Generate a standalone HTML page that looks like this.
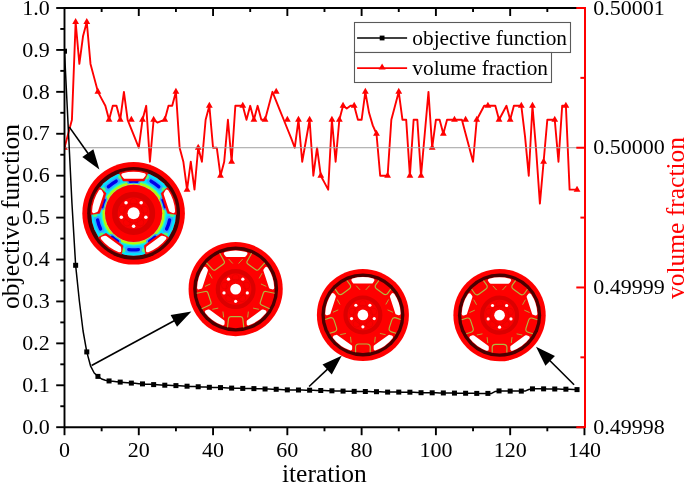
<!DOCTYPE html><html><head><meta charset="utf-8"><style>html,body{margin:0;padding:0;background:#fff;}svg{display:block;will-change:transform;}text{font-family:"Liberation Serif",serif;}</style></head><body><svg width="685" height="483" viewBox="0 0 685 483">
<rect width="685" height="483" fill="#fff"/>
<circle cx="133.6" cy="213.3" r="51.3" fill="#ff0000"/>
<circle cx="133.6" cy="213.3" r="46.40" fill="#4a0000"/>
<circle cx="133.6" cy="213.3" r="42.40" fill="#ff0000"/>
<circle cx="133.6" cy="213.3" r="42.4" fill="#00e4ff"/>
<circle cx="133.6" cy="213.3" r="31.6" fill="none" stroke="#40ffa0" stroke-width="1.2"/>
<circle cx="133.6" cy="213.3" r="30.2" fill="none" stroke="#b4ff00" stroke-width="1.8"/>
<circle cx="133.6" cy="213.3" r="29.0" fill="none" stroke="#ffd800" stroke-width="0.9"/>
<circle cx="133.6" cy="213.3" r="28.6" fill="#ff0000"/>
<path d="M150.22,180.69 A36.60,36.60 0 0 1 159.48,187.42" fill="none" stroke="#30a8ff" stroke-width="6.5" stroke-linecap="round"/>
<path d="M151.06,181.14 A36.60,36.60 0 0 1 158.79,186.75" fill="none" stroke="#0000e8" stroke-width="3.4" stroke-linecap="round"/>
<path d="M129.13,181.51 A32.10,32.10 0 0 1 138.07,181.51" fill="none" stroke="#30a8ff" stroke-width="5.2" stroke-linecap="round"/>
<path d="M129.97,181.41 A32.10,32.10 0 0 1 137.23,181.41" fill="none" stroke="#0000e8" stroke-width="3.0" stroke-linecap="round"/>
<path d="M169.75,219.03 A36.60,36.60 0 0 1 166.21,229.92" fill="none" stroke="#30a8ff" stroke-width="6.5" stroke-linecap="round"/>
<path d="M169.59,219.97 A36.60,36.60 0 0 1 166.63,229.06" fill="none" stroke="#0000e8" stroke-width="3.4" stroke-linecap="round"/>
<path d="M162.45,199.23 A32.10,32.10 0 0 1 165.21,207.73" fill="none" stroke="#30a8ff" stroke-width="5.2" stroke-linecap="round"/>
<path d="M162.81,199.99 A32.10,32.10 0 0 1 165.06,206.90" fill="none" stroke="#0000e8" stroke-width="3.0" stroke-linecap="round"/>
<path d="M139.33,249.45 A36.60,36.60 0 0 1 127.87,249.45" fill="none" stroke="#30a8ff" stroke-width="6.5" stroke-linecap="round"/>
<path d="M138.38,249.59 A36.60,36.60 0 0 1 128.82,249.59" fill="none" stroke="#0000e8" stroke-width="3.4" stroke-linecap="round"/>
<path d="M155.90,236.39 A32.10,32.10 0 0 1 148.67,241.64" fill="none" stroke="#30a8ff" stroke-width="5.2" stroke-linecap="round"/>
<path d="M155.29,236.97 A32.10,32.10 0 0 1 149.41,241.24" fill="none" stroke="#0000e8" stroke-width="3.0" stroke-linecap="round"/>
<path d="M100.99,229.92 A36.60,36.60 0 0 1 97.45,219.03" fill="none" stroke="#30a8ff" stroke-width="6.5" stroke-linecap="round"/>
<path d="M100.57,229.06 A36.60,36.60 0 0 1 97.61,219.97" fill="none" stroke="#0000e8" stroke-width="3.4" stroke-linecap="round"/>
<path d="M118.53,241.64 A32.10,32.10 0 0 1 111.30,236.39" fill="none" stroke="#30a8ff" stroke-width="5.2" stroke-linecap="round"/>
<path d="M117.79,241.24 A32.10,32.10 0 0 1 111.91,236.97" fill="none" stroke="#0000e8" stroke-width="3.0" stroke-linecap="round"/>
<path d="M107.72,187.42 A36.60,36.60 0 0 1 116.98,180.69" fill="none" stroke="#30a8ff" stroke-width="6.5" stroke-linecap="round"/>
<path d="M108.41,186.75 A36.60,36.60 0 0 1 116.14,181.14" fill="none" stroke="#0000e8" stroke-width="3.4" stroke-linecap="round"/>
<path d="M101.99,207.73 A32.10,32.10 0 0 1 104.75,199.23" fill="none" stroke="#30a8ff" stroke-width="5.2" stroke-linecap="round"/>
<path d="M102.14,206.90 A32.10,32.10 0 0 1 104.39,199.99" fill="none" stroke="#0000e8" stroke-width="3.0" stroke-linecap="round"/>
<circle cx="120.43" cy="177.12" r="2.4" fill="#60ff60" opacity="0.85"/>
<circle cx="146.77" cy="177.12" r="2.4" fill="#60ff60" opacity="0.85"/>
<path d="M119.31,172.95 A42.80,42.80 0 0 1 147.89,172.95 L144.11,180.96 L123.09,180.96 Z" fill="#ff0000" stroke="#ff0000" stroke-width="0.6" stroke-linejoin="round"/>
<path d="M123.16,174.89 A39.80,39.80 0 0 1 144.04,174.89 L142.24,177.02 L124.96,177.02 Z" fill="#fff" stroke="#fff" stroke-width="3.6" stroke-linejoin="round"/>
<circle cx="163.94" cy="189.60" r="2.4" fill="#60ff60" opacity="0.85"/>
<circle cx="172.08" cy="214.64" r="2.4" fill="#60ff60" opacity="0.85"/>
<path d="M167.56,187.25 A42.80,42.80 0 0 1 176.39,214.42 L167.60,213.30 L161.11,193.32 Z" fill="#ff0000" stroke="#ff0000" stroke-width="0.6" stroke-linejoin="round"/>
<path d="M166.90,191.51 A39.80,39.80 0 0 1 173.35,211.36 L170.78,210.31 L165.44,193.87 Z" fill="#fff" stroke="#fff" stroke-width="3.6" stroke-linejoin="round"/>
<circle cx="165.52" cy="234.83" r="2.4" fill="#60ff60" opacity="0.85"/>
<circle cx="144.21" cy="250.31" r="2.4" fill="#60ff60" opacity="0.85"/>
<path d="M168.87,237.54 A42.80,42.80 0 0 1 145.76,254.34 L144.11,245.64 L161.11,233.28 Z" fill="#ff0000" stroke="#ff0000" stroke-width="0.6" stroke-linejoin="round"/>
<path d="M164.62,238.24 A39.80,39.80 0 0 1 147.73,250.51 L147.93,247.74 L161.92,237.57 Z" fill="#fff" stroke="#fff" stroke-width="3.6" stroke-linejoin="round"/>
<circle cx="122.99" cy="250.31" r="2.4" fill="#60ff60" opacity="0.85"/>
<circle cx="101.68" cy="234.83" r="2.4" fill="#60ff60" opacity="0.85"/>
<path d="M121.44,254.34 A42.80,42.80 0 0 1 98.33,237.54 L106.09,233.28 L123.09,245.64 Z" fill="#ff0000" stroke="#ff0000" stroke-width="0.6" stroke-linejoin="round"/>
<path d="M119.47,250.51 A39.80,39.80 0 0 1 102.58,238.24 L105.28,237.57 L119.27,247.74 Z" fill="#fff" stroke="#fff" stroke-width="3.6" stroke-linejoin="round"/>
<circle cx="95.12" cy="214.64" r="2.4" fill="#60ff60" opacity="0.85"/>
<circle cx="103.26" cy="189.60" r="2.4" fill="#60ff60" opacity="0.85"/>
<path d="M90.81,214.42 A42.80,42.80 0 0 1 99.64,187.25 L106.09,193.32 L99.60,213.30 Z" fill="#ff0000" stroke="#ff0000" stroke-width="0.6" stroke-linejoin="round"/>
<path d="M93.85,211.36 A39.80,39.80 0 0 1 100.30,191.51 L101.76,193.87 L96.42,210.31 Z" fill="#fff" stroke="#fff" stroke-width="3.6" stroke-linejoin="round"/>
<circle cx="133.6" cy="213.3" r="18.75" fill="#fa0000" stroke="#dc0000" stroke-width="5.70"/>
<circle cx="133.6" cy="213.3" r="9.86" fill="none" stroke="#e40000" stroke-width="0.7"/>
<circle cx="126.87" cy="222.56" r="3.50" fill="none" stroke="#e40000" stroke-width="0.6"/>
<circle cx="122.71" cy="209.76" r="3.50" fill="none" stroke="#e40000" stroke-width="0.6"/>
<circle cx="133.60" cy="201.85" r="3.50" fill="none" stroke="#e40000" stroke-width="0.6"/>
<circle cx="144.49" cy="209.76" r="3.50" fill="none" stroke="#e40000" stroke-width="0.6"/>
<circle cx="140.33" cy="222.56" r="3.50" fill="none" stroke="#e40000" stroke-width="0.6"/>
<circle cx="133.6" cy="213.3" r="6.00" fill="#fff"/>
<circle cx="133.60" cy="226.20" r="1.75" fill="#fff"/>
<circle cx="121.33" cy="217.29" r="1.75" fill="#fff"/>
<circle cx="126.02" cy="202.86" r="1.75" fill="#fff"/>
<circle cx="141.18" cy="202.86" r="1.75" fill="#fff"/>
<circle cx="145.87" cy="217.29" r="1.75" fill="#fff"/>
<circle cx="235.65" cy="289.1" r="47.1" fill="#ff0000"/>
<circle cx="235.65" cy="289.1" r="42.48" fill="#4a0000"/>
<circle cx="235.65" cy="289.1" r="39.09" fill="#ff0000"/>
<path d="M225.52,253.54 A36.97,36.97 0 0 1 245.78,253.54 L244.49,255.39 L226.81,255.39 Z" fill="#fff" stroke="#fff" stroke-width="3.3" stroke-linejoin="round"/>
<path d="M266.34,268.48 A36.97,36.97 0 0 1 272.60,287.75 L270.45,287.09 L264.98,270.27 Z" fill="#fff" stroke="#fff" stroke-width="3.3" stroke-linejoin="round"/>
<path d="M264.75,311.91 A36.97,36.97 0 0 1 248.36,323.82 L248.31,321.57 L262.62,311.18 Z" fill="#fff" stroke="#fff" stroke-width="3.3" stroke-linejoin="round"/>
<path d="M222.94,323.82 A36.97,36.97 0 0 1 206.55,311.91 L208.68,311.18 L222.99,321.57 Z" fill="#fff" stroke="#fff" stroke-width="3.3" stroke-linejoin="round"/>
<path d="M198.70,287.75 A36.97,36.97 0 0 1 204.96,268.48 L206.32,270.27 L200.85,287.09 Z" fill="#fff" stroke="#fff" stroke-width="3.3" stroke-linejoin="round"/>
<path d="M251.58,253.29 L247.25,260.99 Q246.22,262.76 247.87,263.95 L255.79,269.71 Q257.44,270.91 258.80,269.38 L264.78,262.88" fill="none" stroke="#b0b840" stroke-width="1.15" stroke-linejoin="round"/>
<line x1="259.12" y1="278.40" x2="262.04" y2="273.24" stroke="#b0b840" stroke-width="0.9"/>
<line x1="260.93" y1="283.96" x2="266.32" y2="286.42" stroke="#b0b840" stroke-width="0.9"/>
<path d="M274.63,293.19 L265.97,291.45 Q263.97,291.01 263.34,292.95 L260.32,302.26 Q259.69,304.20 261.56,305.02 L269.59,308.70" fill="none" stroke="#b0b840" stroke-width="1.15" stroke-linejoin="round"/>
<line x1="253.08" y1="308.12" x2="258.89" y2="309.30" stroke="#b0b840" stroke-width="0.9"/>
<line x1="248.35" y1="311.55" x2="247.68" y2="317.44" stroke="#b0b840" stroke-width="0.9"/>
<path d="M243.81,327.43 L242.79,318.66 Q242.58,316.63 240.54,316.63 L230.76,316.63 Q228.72,316.63 228.51,318.66 L227.49,327.43" fill="none" stroke="#b0b840" stroke-width="1.15" stroke-linejoin="round"/>
<line x1="222.95" y1="311.55" x2="223.62" y2="317.44" stroke="#b0b840" stroke-width="0.9"/>
<line x1="218.22" y1="308.12" x2="212.41" y2="309.30" stroke="#b0b840" stroke-width="0.9"/>
<path d="M201.71,308.70 L209.74,305.02 Q211.61,304.20 210.98,302.26 L207.96,292.95 Q207.33,291.01 205.33,291.45 L196.67,293.19" fill="none" stroke="#b0b840" stroke-width="1.15" stroke-linejoin="round"/>
<line x1="210.37" y1="283.96" x2="204.98" y2="286.42" stroke="#b0b840" stroke-width="0.9"/>
<line x1="212.18" y1="278.40" x2="209.26" y2="273.24" stroke="#b0b840" stroke-width="0.9"/>
<path d="M206.52,262.88 L212.50,269.38 Q213.86,270.91 215.51,269.71 L223.43,263.95 Q225.08,262.76 224.05,260.99 L219.72,253.29" fill="none" stroke="#b0b840" stroke-width="1.15" stroke-linejoin="round"/>
<line x1="232.73" y1="263.47" x2="228.72" y2="259.10" stroke="#b0b840" stroke-width="0.9"/>
<line x1="238.57" y1="263.47" x2="242.58" y2="259.10" stroke="#b0b840" stroke-width="0.9"/>
<circle cx="235.65" cy="289.1" r="17.84" fill="#fa0000" stroke="#dc0000" stroke-width="4.28"/>
<circle cx="235.65" cy="289.1" r="9.73" fill="none" stroke="#e40000" stroke-width="0.7"/>
<circle cx="229.01" cy="298.25" r="3.45" fill="none" stroke="#e40000" stroke-width="0.6"/>
<circle cx="224.90" cy="285.61" r="3.45" fill="none" stroke="#e40000" stroke-width="0.6"/>
<circle cx="235.65" cy="277.80" r="3.45" fill="none" stroke="#e40000" stroke-width="0.6"/>
<circle cx="246.40" cy="285.61" r="3.45" fill="none" stroke="#e40000" stroke-width="0.6"/>
<circle cx="242.29" cy="298.25" r="3.45" fill="none" stroke="#e40000" stroke-width="0.6"/>
<circle cx="235.65" cy="289.1" r="5.45" fill="#fff"/>
<circle cx="235.65" cy="301.33" r="1.63" fill="#fff"/>
<circle cx="224.01" cy="292.88" r="1.63" fill="#fff"/>
<circle cx="228.46" cy="279.20" r="1.63" fill="#fff"/>
<circle cx="242.84" cy="279.20" r="1.63" fill="#fff"/>
<circle cx="247.29" cy="292.88" r="1.63" fill="#fff"/>
<circle cx="362.9" cy="314.9" r="46.0" fill="#ff0000"/>
<circle cx="362.9" cy="314.9" r="41.49" fill="#4a0000"/>
<circle cx="362.9" cy="314.9" r="38.18" fill="#ff0000"/>
<path d="M353.01,280.17 A36.11,36.11 0 0 1 372.79,280.17 L371.54,281.97 L354.26,281.97 Z" fill="#fff" stroke="#fff" stroke-width="3.3" stroke-linejoin="round"/>
<path d="M392.87,294.76 A36.11,36.11 0 0 1 398.99,313.58 L396.88,312.94 L391.55,296.51 Z" fill="#fff" stroke="#fff" stroke-width="3.3" stroke-linejoin="round"/>
<path d="M391.32,337.18 A36.11,36.11 0 0 1 375.31,348.81 L375.27,346.61 L389.24,336.46 Z" fill="#fff" stroke="#fff" stroke-width="3.3" stroke-linejoin="round"/>
<path d="M350.49,348.81 A36.11,36.11 0 0 1 334.48,337.18 L336.56,336.46 L350.53,346.61 Z" fill="#fff" stroke="#fff" stroke-width="3.3" stroke-linejoin="round"/>
<path d="M326.81,313.58 A36.11,36.11 0 0 1 332.93,294.76 L334.25,296.51 L328.92,312.94 Z" fill="#fff" stroke="#fff" stroke-width="3.3" stroke-linejoin="round"/>
<path d="M378.91,280.50 L375.96,284.39 Q374.03,287.05 376.77,289.04 L383.21,293.72 Q385.95,295.71 387.88,293.05 L390.67,289.05" fill="none" stroke="#b0b840" stroke-width="1.15" stroke-linejoin="round"/>
<line x1="385.82" y1="304.45" x2="388.67" y2="299.41" stroke="#b0b840" stroke-width="0.9"/>
<line x1="387.58" y1="309.88" x2="392.85" y2="312.28" stroke="#b0b840" stroke-width="0.9"/>
<path d="M400.56,319.49 L395.95,317.89 Q392.83,316.88 391.78,320.10 L389.32,327.67 Q388.27,330.89 391.40,331.91 L396.07,333.32" fill="none" stroke="#b0b840" stroke-width="1.15" stroke-linejoin="round"/>
<line x1="379.92" y1="333.47" x2="385.59" y2="334.63" stroke="#b0b840" stroke-width="0.9"/>
<line x1="375.30" y1="336.82" x2="374.65" y2="342.58" stroke="#b0b840" stroke-width="0.9"/>
<path d="M370.17,352.14 L370.27,347.26 Q370.27,343.97 366.88,343.97 L358.92,343.97 Q355.53,343.97 355.53,347.26 L355.63,352.14" fill="none" stroke="#b0b840" stroke-width="1.15" stroke-linejoin="round"/>
<line x1="350.50" y1="336.82" x2="351.15" y2="342.58" stroke="#b0b840" stroke-width="0.9"/>
<line x1="345.88" y1="333.47" x2="340.21" y2="334.63" stroke="#b0b840" stroke-width="0.9"/>
<path d="M329.73,333.32 L334.40,331.91 Q337.53,330.89 336.48,327.67 L334.02,320.10 Q332.97,316.88 329.85,317.89 L325.24,319.49" fill="none" stroke="#b0b840" stroke-width="1.15" stroke-linejoin="round"/>
<line x1="338.22" y1="309.88" x2="332.95" y2="312.28" stroke="#b0b840" stroke-width="0.9"/>
<line x1="339.98" y1="304.45" x2="337.13" y2="299.41" stroke="#b0b840" stroke-width="0.9"/>
<path d="M335.13,289.05 L337.92,293.05 Q339.85,295.71 342.59,293.72 L349.03,289.04 Q351.77,287.05 349.84,284.39 L346.89,280.50" fill="none" stroke="#b0b840" stroke-width="1.15" stroke-linejoin="round"/>
<line x1="360.05" y1="289.87" x2="356.14" y2="285.60" stroke="#b0b840" stroke-width="0.9"/>
<line x1="365.75" y1="289.87" x2="369.66" y2="285.60" stroke="#b0b840" stroke-width="0.9"/>
<circle cx="362.9" cy="314.9" r="17.42" fill="#fa0000" stroke="#dc0000" stroke-width="4.18"/>
<circle cx="362.9" cy="314.9" r="9.51" fill="none" stroke="#e40000" stroke-width="0.7"/>
<circle cx="356.41" cy="323.83" r="3.37" fill="none" stroke="#e40000" stroke-width="0.6"/>
<circle cx="352.40" cy="311.49" r="3.37" fill="none" stroke="#e40000" stroke-width="0.6"/>
<circle cx="362.90" cy="303.86" r="3.37" fill="none" stroke="#e40000" stroke-width="0.6"/>
<circle cx="373.40" cy="311.49" r="3.37" fill="none" stroke="#e40000" stroke-width="0.6"/>
<circle cx="369.39" cy="323.83" r="3.37" fill="none" stroke="#e40000" stroke-width="0.6"/>
<circle cx="362.9" cy="314.9" r="5.33" fill="#fff"/>
<circle cx="362.90" cy="326.85" r="1.59" fill="#fff"/>
<circle cx="351.54" cy="318.59" r="1.59" fill="#fff"/>
<circle cx="355.88" cy="305.23" r="1.59" fill="#fff"/>
<circle cx="369.92" cy="305.23" r="1.59" fill="#fff"/>
<circle cx="374.26" cy="318.59" r="1.59" fill="#fff"/>
<circle cx="499.55" cy="315.2" r="46.15" fill="#ff0000"/>
<circle cx="499.55" cy="315.2" r="41.63" fill="#4a0000"/>
<circle cx="499.55" cy="315.2" r="38.30" fill="#ff0000"/>
<path d="M489.63,280.36 A36.23,36.23 0 0 1 509.47,280.36 L508.22,282.17 L490.88,282.17 Z" fill="#fff" stroke="#fff" stroke-width="3.3" stroke-linejoin="round"/>
<path d="M529.62,294.99 A36.23,36.23 0 0 1 535.75,313.87 L533.64,313.23 L528.29,296.75 Z" fill="#fff" stroke="#fff" stroke-width="3.3" stroke-linejoin="round"/>
<path d="M528.06,337.55 A36.23,36.23 0 0 1 512.00,349.22 L511.96,347.02 L525.98,336.83 Z" fill="#fff" stroke="#fff" stroke-width="3.3" stroke-linejoin="round"/>
<path d="M487.10,349.22 A36.23,36.23 0 0 1 471.04,337.55 L473.12,336.83 L487.14,347.02 Z" fill="#fff" stroke="#fff" stroke-width="3.3" stroke-linejoin="round"/>
<path d="M463.35,313.87 A36.23,36.23 0 0 1 469.48,294.99 L470.81,296.75 L465.46,313.23 Z" fill="#fff" stroke="#fff" stroke-width="3.3" stroke-linejoin="round"/>
<path d="M515.61,280.69 L512.65,284.59 Q510.71,287.26 513.46,289.25 L519.93,293.95 Q522.68,295.95 524.61,293.28 L527.41,289.26" fill="none" stroke="#b0b840" stroke-width="1.15" stroke-linejoin="round"/>
<line x1="522.55" y1="304.72" x2="525.41" y2="299.66" stroke="#b0b840" stroke-width="0.9"/>
<line x1="524.32" y1="310.16" x2="529.60" y2="312.57" stroke="#b0b840" stroke-width="0.9"/>
<path d="M537.33,319.81 L532.71,318.20 Q529.58,317.18 528.53,320.41 L526.06,328.01 Q525.01,331.24 528.14,332.26 L532.83,333.68" fill="none" stroke="#b0b840" stroke-width="1.15" stroke-linejoin="round"/>
<line x1="516.62" y1="333.83" x2="522.32" y2="334.99" stroke="#b0b840" stroke-width="0.9"/>
<line x1="511.99" y1="337.20" x2="511.34" y2="342.97" stroke="#b0b840" stroke-width="0.9"/>
<path d="M506.84,352.56 L506.94,347.66 Q506.94,344.37 503.55,344.37 L495.55,344.37 Q492.16,344.37 492.16,347.66 L492.26,352.56" fill="none" stroke="#b0b840" stroke-width="1.15" stroke-linejoin="round"/>
<line x1="487.11" y1="337.20" x2="487.76" y2="342.97" stroke="#b0b840" stroke-width="0.9"/>
<line x1="482.48" y1="333.83" x2="476.78" y2="334.99" stroke="#b0b840" stroke-width="0.9"/>
<path d="M466.27,333.68 L470.96,332.26 Q474.09,331.24 473.04,328.01 L470.57,320.41 Q469.52,317.18 466.39,318.20 L461.77,319.81" fill="none" stroke="#b0b840" stroke-width="1.15" stroke-linejoin="round"/>
<line x1="474.78" y1="310.16" x2="469.50" y2="312.57" stroke="#b0b840" stroke-width="0.9"/>
<line x1="476.55" y1="304.72" x2="473.69" y2="299.66" stroke="#b0b840" stroke-width="0.9"/>
<path d="M471.69,289.26 L474.49,293.28 Q476.42,295.95 479.17,293.95 L485.64,289.25 Q488.39,287.26 486.45,284.59 L483.49,280.69" fill="none" stroke="#b0b840" stroke-width="1.15" stroke-linejoin="round"/>
<line x1="496.69" y1="290.09" x2="492.76" y2="285.81" stroke="#b0b840" stroke-width="0.9"/>
<line x1="502.41" y1="290.09" x2="506.34" y2="285.81" stroke="#b0b840" stroke-width="0.9"/>
<circle cx="499.55" cy="315.2" r="17.48" fill="#fa0000" stroke="#dc0000" stroke-width="4.20"/>
<circle cx="499.55" cy="315.2" r="9.54" fill="none" stroke="#e40000" stroke-width="0.7"/>
<circle cx="493.04" cy="324.16" r="3.38" fill="none" stroke="#e40000" stroke-width="0.6"/>
<circle cx="489.02" cy="311.78" r="3.38" fill="none" stroke="#e40000" stroke-width="0.6"/>
<circle cx="499.55" cy="304.12" r="3.38" fill="none" stroke="#e40000" stroke-width="0.6"/>
<circle cx="510.08" cy="311.78" r="3.38" fill="none" stroke="#e40000" stroke-width="0.6"/>
<circle cx="506.06" cy="324.16" r="3.38" fill="none" stroke="#e40000" stroke-width="0.6"/>
<circle cx="499.55" cy="315.2" r="5.34" fill="#fff"/>
<circle cx="499.55" cy="327.19" r="1.60" fill="#fff"/>
<circle cx="488.15" cy="318.90" r="1.60" fill="#fff"/>
<circle cx="492.50" cy="305.50" r="1.60" fill="#fff"/>
<circle cx="506.60" cy="305.50" r="1.60" fill="#fff"/>
<circle cx="510.95" cy="318.90" r="1.60" fill="#fff"/>
<clipPath id="pc"><rect x="64.5" y="8.0" width="520.5" height="419.2"/></clipPath>
<g clip-path="url(#pc)">
<polyline points="64.50,147.73 68.21,133.76 71.93,119.79 75.64,21.97 79.36,63.89 83.07,35.95 86.78,21.97 90.50,63.89 94.21,77.87 97.93,91.84 101.64,98.83 105.35,105.81 109.07,119.79 112.78,105.81 116.50,105.81 120.21,119.79 123.92,91.84 127.64,119.79 131.35,129.15 135.07,138.37 138.78,147.73 142.49,119.79 146.21,105.81 149.92,161.71 153.64,119.79 157.35,122.58 161.06,121.18 164.78,119.79 168.49,105.81 172.21,105.81 175.92,91.84 179.63,147.73 183.35,161.71 187.06,189.65 190.78,161.71 194.49,189.65 198.20,147.73 201.92,161.71 205.63,119.79 209.35,105.81 213.06,147.73 216.77,147.73 220.49,175.68 224.20,161.71 227.92,119.79 231.63,161.71 235.34,105.81 239.06,105.81 242.77,105.81 246.49,119.79 250.20,105.81 253.91,119.79 257.63,105.81 261.34,119.79 265.06,119.79 268.77,105.81 272.48,91.84 276.20,101.06 279.91,110.28 283.63,119.51 287.34,128.73 291.05,137.95 294.77,147.73 298.48,119.79 302.20,161.71 305.91,140.75 309.62,119.79 313.34,175.68 317.05,147.73 320.77,175.68 324.48,182.67 328.19,189.65 331.91,119.79 335.62,161.71 339.34,119.79 343.05,105.81 346.76,108.61 350.48,105.81 354.19,105.81 357.91,119.79 361.62,119.79 365.33,91.84 369.05,112.80 372.76,125.38 376.48,133.76 380.19,175.68 383.90,175.68 387.62,175.68 391.33,119.79 395.05,105.81 398.76,91.84 402.47,119.79 406.19,119.79 409.90,175.68 413.62,119.79 417.33,119.79 421.04,175.68 424.76,133.76 428.47,91.84 432.19,147.73 435.90,119.79 439.61,119.79 443.33,133.76 447.04,119.79 450.76,119.79 454.47,119.79 458.18,119.79 461.90,119.79 465.61,133.76 469.33,147.73 473.04,161.71 476.75,119.79 480.47,112.80 484.18,105.81 487.90,105.81 491.61,105.81 495.32,105.81 499.04,119.79 502.75,112.80 506.47,105.81 510.18,119.79 513.89,105.81 517.61,105.81 521.32,105.81 525.04,136.55 528.75,175.68 532.46,105.81 536.18,150.53 539.89,203.63 543.61,161.71 547.32,119.79 551.03,119.79 554.75,119.79 558.46,161.71 562.18,105.81 565.89,105.81 569.60,189.65 573.32,189.65 577.03,189.65" fill="none" stroke="#ff0000" stroke-width="1.9" stroke-linejoin="round"/>
<path d="M64.50,143.73 L67.90,149.73 L61.10,149.73 Z" fill="#ff0000"/>
<path d="M75.64,17.97 L79.04,23.97 L72.24,23.97 Z" fill="#ff0000"/>
<path d="M86.78,17.97 L90.18,23.97 L83.38,23.97 Z" fill="#ff0000"/>
<path d="M97.93,87.84 L101.33,93.84 L94.53,93.84 Z" fill="#ff0000"/>
<path d="M109.07,115.79 L112.47,121.79 L105.67,121.79 Z" fill="#ff0000"/>
<path d="M120.21,115.79 L123.61,121.79 L116.81,121.79 Z" fill="#ff0000"/>
<path d="M131.35,115.79 L134.75,121.79 L127.95,121.79 Z" fill="#ff0000"/>
<path d="M142.49,115.79 L145.89,121.79 L139.09,121.79 Z" fill="#ff0000"/>
<path d="M153.64,115.79 L157.04,121.79 L150.24,121.79 Z" fill="#ff0000"/>
<path d="M164.78,115.79 L168.18,121.79 L161.38,121.79 Z" fill="#ff0000"/>
<path d="M175.92,87.84 L179.32,93.84 L172.52,93.84 Z" fill="#ff0000"/>
<path d="M187.06,185.65 L190.46,191.65 L183.66,191.65 Z" fill="#ff0000"/>
<path d="M198.20,143.73 L201.60,149.73 L194.80,149.73 Z" fill="#ff0000"/>
<path d="M209.35,101.81 L212.75,107.81 L205.95,107.81 Z" fill="#ff0000"/>
<path d="M220.49,171.68 L223.89,177.68 L217.09,177.68 Z" fill="#ff0000"/>
<path d="M231.63,157.71 L235.03,163.71 L228.23,163.71 Z" fill="#ff0000"/>
<path d="M242.77,101.81 L246.17,107.81 L239.37,107.81 Z" fill="#ff0000"/>
<path d="M253.91,115.79 L257.31,121.79 L250.51,121.79 Z" fill="#ff0000"/>
<path d="M265.06,115.79 L268.46,121.79 L261.66,121.79 Z" fill="#ff0000"/>
<path d="M276.20,87.84 L279.60,93.84 L272.80,93.84 Z" fill="#ff0000"/>
<path d="M287.34,115.79 L290.74,121.79 L283.94,121.79 Z" fill="#ff0000"/>
<path d="M298.48,115.79 L301.88,121.79 L295.08,121.79 Z" fill="#ff0000"/>
<path d="M309.62,115.79 L313.02,121.79 L306.22,121.79 Z" fill="#ff0000"/>
<path d="M320.77,171.68 L324.17,177.68 L317.37,177.68 Z" fill="#ff0000"/>
<path d="M331.91,115.79 L335.31,121.79 L328.51,121.79 Z" fill="#ff0000"/>
<path d="M343.05,101.81 L346.45,107.81 L339.65,107.81 Z" fill="#ff0000"/>
<path d="M354.19,101.81 L357.59,107.81 L350.79,107.81 Z" fill="#ff0000"/>
<path d="M365.33,87.84 L368.73,93.84 L361.93,93.84 Z" fill="#ff0000"/>
<path d="M376.48,129.76 L379.88,135.76 L373.08,135.76 Z" fill="#ff0000"/>
<path d="M387.62,171.68 L391.02,177.68 L384.22,177.68 Z" fill="#ff0000"/>
<path d="M398.76,87.84 L402.16,93.84 L395.36,93.84 Z" fill="#ff0000"/>
<path d="M409.90,171.68 L413.30,177.68 L406.50,177.68 Z" fill="#ff0000"/>
<path d="M421.04,171.68 L424.44,177.68 L417.64,177.68 Z" fill="#ff0000"/>
<path d="M432.19,143.73 L435.59,149.73 L428.79,149.73 Z" fill="#ff0000"/>
<path d="M443.33,129.76 L446.73,135.76 L439.93,135.76 Z" fill="#ff0000"/>
<path d="M454.47,115.79 L457.87,121.79 L451.07,121.79 Z" fill="#ff0000"/>
<path d="M465.61,115.79 L469.01,121.79 L462.21,121.79 Z" fill="#ff0000"/>
<path d="M476.75,115.79 L480.15,121.79 L473.35,121.79 Z" fill="#ff0000"/>
<path d="M487.90,101.81 L491.30,107.81 L484.50,107.81 Z" fill="#ff0000"/>
<path d="M499.04,115.79 L502.44,121.79 L495.64,121.79 Z" fill="#ff0000"/>
<path d="M510.18,115.79 L513.58,121.79 L506.78,121.79 Z" fill="#ff0000"/>
<path d="M521.32,101.81 L524.72,107.81 L517.92,107.81 Z" fill="#ff0000"/>
<path d="M532.46,101.81 L535.86,107.81 L529.06,107.81 Z" fill="#ff0000"/>
<path d="M543.61,157.71 L547.01,163.71 L540.21,163.71 Z" fill="#ff0000"/>
<path d="M554.75,115.79 L558.15,121.79 L551.35,121.79 Z" fill="#ff0000"/>
<path d="M565.89,101.81 L569.29,107.81 L562.49,107.81 Z" fill="#ff0000"/>
<path d="M577.03,185.65 L580.43,191.65 L573.63,191.65 Z" fill="#ff0000"/>
<path d="M339.34,115.79 L342.74,121.79 L335.94,121.79 Z" fill="#ff0000"/>
<line x1="64.5" y1="147.73" x2="585" y2="147.73" stroke="#a0a0a0" stroke-width="1"/>
<polyline points="64.50,51.20 68.21,127.00 71.93,203.00 75.64,265.30 79.36,301.00 83.07,331.00 86.78,351.90 90.50,365.80 94.21,373.00 97.93,376.40 101.64,379.00 105.35,380.20 109.07,380.95 112.78,381.33 116.50,381.72 120.21,382.10 123.92,382.43 127.64,382.77 131.35,383.10 135.07,383.37 138.78,383.63 142.49,383.90 146.21,384.13 149.92,384.37 153.64,384.60 157.35,384.80 161.06,385.00 164.78,385.20 168.49,385.33 172.21,385.47 175.92,385.60 179.63,385.80 183.35,386.00 187.06,386.20 190.78,386.38 194.49,386.57 198.20,386.75 201.92,386.93 205.63,387.12 209.35,387.30 213.06,387.40 216.77,387.50 220.49,387.60 224.20,387.77 227.92,387.93 231.63,388.10 235.34,388.20 239.06,388.30 242.77,388.40 246.49,388.47 250.20,388.53 253.91,388.60 257.63,388.73 261.34,388.87 265.06,389.00 268.77,389.10 272.48,389.20 276.20,389.30 279.91,389.50 283.63,389.70 287.34,389.90 291.05,389.93 294.77,389.97 298.48,390.00 302.20,390.07 305.91,390.13 309.62,390.20 313.34,390.30 317.05,390.40 320.77,390.50 324.48,390.60 328.19,390.70 331.91,390.80 335.62,390.90 339.34,391.00 343.05,391.10 346.76,391.18 350.48,391.27 354.19,391.35 357.91,391.40 361.62,391.45 365.33,391.50 369.05,391.57 372.76,391.63 376.48,391.70 380.19,391.83 383.90,391.97 387.62,392.10 391.33,392.10 395.05,392.10 398.76,392.10 402.47,392.13 406.19,392.17 409.90,392.20 413.62,392.37 417.33,392.53 421.04,392.70 424.76,392.73 428.47,392.77 432.19,392.80 435.90,392.85 439.61,392.90 443.33,392.95 447.04,393.00 450.76,393.05 454.47,393.10 458.18,393.15 461.90,393.20 465.61,393.25 469.33,393.30 473.04,393.35 476.75,393.40 480.47,393.40 484.18,393.40 487.90,393.40 491.61,393.40 495.32,391.40 499.04,390.90 502.75,390.97 506.47,391.03 510.18,391.10 513.89,391.10 517.61,391.10 521.32,391.10 525.04,391.10 528.75,389.50 532.46,388.85 536.18,388.85 539.89,388.85 543.61,388.85 547.32,388.90 551.03,388.95 554.75,389.00 558.46,389.07 562.18,389.13 565.89,389.20 569.60,389.33 573.32,389.47 577.03,389.60" fill="none" stroke="#000" stroke-width="1.5" stroke-linejoin="round"/>
<rect x="62.00" y="48.70" width="5" height="5" fill="#000"/>
<rect x="73.14" y="262.80" width="5" height="5" fill="#000"/>
<rect x="84.28" y="349.40" width="5" height="5" fill="#000"/>
<rect x="95.43" y="373.90" width="5" height="5" fill="#000"/>
<rect x="106.57" y="378.45" width="5" height="5" fill="#000"/>
<rect x="117.71" y="379.60" width="5" height="5" fill="#000"/>
<rect x="128.85" y="380.60" width="5" height="5" fill="#000"/>
<rect x="139.99" y="381.40" width="5" height="5" fill="#000"/>
<rect x="151.14" y="382.10" width="5" height="5" fill="#000"/>
<rect x="162.28" y="382.70" width="5" height="5" fill="#000"/>
<rect x="173.42" y="383.10" width="5" height="5" fill="#000"/>
<rect x="184.56" y="383.70" width="5" height="5" fill="#000"/>
<rect x="195.70" y="384.25" width="5" height="5" fill="#000"/>
<rect x="206.85" y="384.80" width="5" height="5" fill="#000"/>
<rect x="217.99" y="385.10" width="5" height="5" fill="#000"/>
<rect x="229.13" y="385.60" width="5" height="5" fill="#000"/>
<rect x="240.27" y="385.90" width="5" height="5" fill="#000"/>
<rect x="251.41" y="386.10" width="5" height="5" fill="#000"/>
<rect x="262.56" y="386.50" width="5" height="5" fill="#000"/>
<rect x="273.70" y="386.80" width="5" height="5" fill="#000"/>
<rect x="284.84" y="387.40" width="5" height="5" fill="#000"/>
<rect x="295.98" y="387.50" width="5" height="5" fill="#000"/>
<rect x="307.12" y="387.70" width="5" height="5" fill="#000"/>
<rect x="318.27" y="388.00" width="5" height="5" fill="#000"/>
<rect x="329.41" y="388.30" width="5" height="5" fill="#000"/>
<rect x="340.55" y="388.60" width="5" height="5" fill="#000"/>
<rect x="351.69" y="388.85" width="5" height="5" fill="#000"/>
<rect x="362.83" y="389.00" width="5" height="5" fill="#000"/>
<rect x="373.98" y="389.20" width="5" height="5" fill="#000"/>
<rect x="385.12" y="389.60" width="5" height="5" fill="#000"/>
<rect x="396.26" y="389.60" width="5" height="5" fill="#000"/>
<rect x="407.40" y="389.70" width="5" height="5" fill="#000"/>
<rect x="418.54" y="390.20" width="5" height="5" fill="#000"/>
<rect x="429.69" y="390.30" width="5" height="5" fill="#000"/>
<rect x="440.83" y="390.45" width="5" height="5" fill="#000"/>
<rect x="451.97" y="390.60" width="5" height="5" fill="#000"/>
<rect x="463.11" y="390.75" width="5" height="5" fill="#000"/>
<rect x="474.25" y="390.90" width="5" height="5" fill="#000"/>
<rect x="485.40" y="390.90" width="5" height="5" fill="#000"/>
<rect x="496.54" y="388.40" width="5" height="5" fill="#000"/>
<rect x="507.68" y="388.60" width="5" height="5" fill="#000"/>
<rect x="518.82" y="388.60" width="5" height="5" fill="#000"/>
<rect x="529.96" y="386.35" width="5" height="5" fill="#000"/>
<rect x="541.11" y="386.35" width="5" height="5" fill="#000"/>
<rect x="552.25" y="386.50" width="5" height="5" fill="#000"/>
<rect x="563.39" y="386.70" width="5" height="5" fill="#000"/>
<rect x="574.53" y="387.10" width="5" height="5" fill="#000"/>
</g>
<line x1="69.4" y1="127.1" x2="88.99" y2="154.72" stroke="#000" stroke-width="1.6"/>
<path d="M99.4,169.4 L82.32,156.99 L93.34,149.18 Z" fill="#000"/>
<line x1="91.6" y1="365.5" x2="175.58" y2="319.98" stroke="#000" stroke-width="1.6"/>
<path d="M191.4,311.4 L177.03,326.87 L170.60,315.00 Z" fill="#000"/>
<line x1="309.1" y1="386.5" x2="328.60" y2="368.14" stroke="#000" stroke-width="1.6"/>
<path d="M341.7,355.8 L331.77,374.43 L322.51,364.60 Z" fill="#000"/>
<line x1="574.1" y1="384.7" x2="548.76" y2="359.49" stroke="#000" stroke-width="1.6"/>
<path d="M536.0,346.8 L554.94,356.12 L545.42,365.69 Z" fill="#000"/>
<line x1="64.5" y1="8.0" x2="585" y2="8.0" stroke="#000" stroke-width="1.9"/>
<line x1="64.5" y1="427.2" x2="585" y2="427.2" stroke="#000" stroke-width="1.9"/>
<line x1="64.5" y1="7.1" x2="64.5" y2="428.09999999999997" stroke="#000" stroke-width="1.9"/>
<line x1="56.2" y1="427.20" x2="64.5" y2="427.20" stroke="#000" stroke-width="1.9"/>
<text x="49.8" y="433.90" font-size="22" text-anchor="end" font-family="Liberation Serif">0.0</text>
<line x1="56.2" y1="385.28" x2="64.5" y2="385.28" stroke="#000" stroke-width="1.9"/>
<text x="49.8" y="391.98" font-size="22" text-anchor="end" font-family="Liberation Serif">0.1</text>
<line x1="56.2" y1="343.36" x2="64.5" y2="343.36" stroke="#000" stroke-width="1.9"/>
<text x="49.8" y="350.06" font-size="22" text-anchor="end" font-family="Liberation Serif">0.2</text>
<line x1="56.2" y1="301.44" x2="64.5" y2="301.44" stroke="#000" stroke-width="1.9"/>
<text x="49.8" y="308.14" font-size="22" text-anchor="end" font-family="Liberation Serif">0.3</text>
<line x1="56.2" y1="259.52" x2="64.5" y2="259.52" stroke="#000" stroke-width="1.9"/>
<text x="49.8" y="266.22" font-size="22" text-anchor="end" font-family="Liberation Serif">0.4</text>
<line x1="56.2" y1="217.60" x2="64.5" y2="217.60" stroke="#000" stroke-width="1.9"/>
<text x="49.8" y="224.30" font-size="22" text-anchor="end" font-family="Liberation Serif">0.5</text>
<line x1="56.2" y1="175.68" x2="64.5" y2="175.68" stroke="#000" stroke-width="1.9"/>
<text x="49.8" y="182.38" font-size="22" text-anchor="end" font-family="Liberation Serif">0.6</text>
<line x1="56.2" y1="133.76" x2="64.5" y2="133.76" stroke="#000" stroke-width="1.9"/>
<text x="49.8" y="140.46" font-size="22" text-anchor="end" font-family="Liberation Serif">0.7</text>
<line x1="56.2" y1="91.84" x2="64.5" y2="91.84" stroke="#000" stroke-width="1.9"/>
<text x="49.8" y="98.54" font-size="22" text-anchor="end" font-family="Liberation Serif">0.8</text>
<line x1="56.2" y1="49.92" x2="64.5" y2="49.92" stroke="#000" stroke-width="1.9"/>
<text x="49.8" y="56.62" font-size="22" text-anchor="end" font-family="Liberation Serif">0.9</text>
<line x1="56.2" y1="8.00" x2="64.5" y2="8.00" stroke="#000" stroke-width="1.9"/>
<text x="49.8" y="14.70" font-size="22" text-anchor="end" font-family="Liberation Serif">1.0</text>
<line x1="60.3" y1="406.24" x2="64.5" y2="406.24" stroke="#000" stroke-width="1.9"/>
<line x1="60.3" y1="364.32" x2="64.5" y2="364.32" stroke="#000" stroke-width="1.9"/>
<line x1="60.3" y1="322.40" x2="64.5" y2="322.40" stroke="#000" stroke-width="1.9"/>
<line x1="60.3" y1="280.48" x2="64.5" y2="280.48" stroke="#000" stroke-width="1.9"/>
<line x1="60.3" y1="238.56" x2="64.5" y2="238.56" stroke="#000" stroke-width="1.9"/>
<line x1="60.3" y1="196.64" x2="64.5" y2="196.64" stroke="#000" stroke-width="1.9"/>
<line x1="60.3" y1="154.72" x2="64.5" y2="154.72" stroke="#000" stroke-width="1.9"/>
<line x1="60.3" y1="112.80" x2="64.5" y2="112.80" stroke="#000" stroke-width="1.9"/>
<line x1="60.3" y1="70.88" x2="64.5" y2="70.88" stroke="#000" stroke-width="1.9"/>
<line x1="60.3" y1="28.96" x2="64.5" y2="28.96" stroke="#000" stroke-width="1.9"/>
<line x1="64.50" y1="427.2" x2="64.50" y2="435.2" stroke="#000" stroke-width="1.9"/>
<text x="64.50" y="457.3" font-size="22" text-anchor="middle" font-family="Liberation Serif">0</text>
<line x1="138.78" y1="427.2" x2="138.78" y2="435.2" stroke="#000" stroke-width="1.9"/>
<line x1="138.78" y1="8.0" x2="138.78" y2="16" stroke="#000" stroke-width="1.9"/>
<text x="138.78" y="457.3" font-size="22" text-anchor="middle" font-family="Liberation Serif">20</text>
<line x1="213.06" y1="427.2" x2="213.06" y2="435.2" stroke="#000" stroke-width="1.9"/>
<line x1="213.06" y1="8.0" x2="213.06" y2="16" stroke="#000" stroke-width="1.9"/>
<text x="213.06" y="457.3" font-size="22" text-anchor="middle" font-family="Liberation Serif">40</text>
<line x1="287.34" y1="427.2" x2="287.34" y2="435.2" stroke="#000" stroke-width="1.9"/>
<line x1="287.34" y1="8.0" x2="287.34" y2="16" stroke="#000" stroke-width="1.9"/>
<text x="287.34" y="457.3" font-size="22" text-anchor="middle" font-family="Liberation Serif">60</text>
<line x1="361.62" y1="427.2" x2="361.62" y2="435.2" stroke="#000" stroke-width="1.9"/>
<line x1="361.62" y1="8.0" x2="361.62" y2="16" stroke="#000" stroke-width="1.9"/>
<text x="361.62" y="457.3" font-size="22" text-anchor="middle" font-family="Liberation Serif">80</text>
<line x1="435.90" y1="427.2" x2="435.90" y2="435.2" stroke="#000" stroke-width="1.9"/>
<line x1="435.90" y1="8.0" x2="435.90" y2="16" stroke="#000" stroke-width="1.9"/>
<text x="435.90" y="457.3" font-size="22" text-anchor="middle" font-family="Liberation Serif">100</text>
<line x1="510.18" y1="427.2" x2="510.18" y2="435.2" stroke="#000" stroke-width="1.9"/>
<line x1="510.18" y1="8.0" x2="510.18" y2="16" stroke="#000" stroke-width="1.9"/>
<text x="510.18" y="457.3" font-size="22" text-anchor="middle" font-family="Liberation Serif">120</text>
<line x1="584.46" y1="427.2" x2="584.46" y2="435.2" stroke="#000" stroke-width="1.9"/>
<text x="584.46" y="457.3" font-size="22" text-anchor="middle" font-family="Liberation Serif">140</text>
<line x1="101.64" y1="427.2" x2="101.64" y2="431.3" stroke="#000" stroke-width="1.9"/>
<line x1="101.64" y1="8.0" x2="101.64" y2="12" stroke="#000" stroke-width="1.9"/>
<line x1="175.92" y1="427.2" x2="175.92" y2="431.3" stroke="#000" stroke-width="1.9"/>
<line x1="175.92" y1="8.0" x2="175.92" y2="12" stroke="#000" stroke-width="1.9"/>
<line x1="250.20" y1="427.2" x2="250.20" y2="431.3" stroke="#000" stroke-width="1.9"/>
<line x1="250.20" y1="8.0" x2="250.20" y2="12" stroke="#000" stroke-width="1.9"/>
<line x1="324.48" y1="427.2" x2="324.48" y2="431.3" stroke="#000" stroke-width="1.9"/>
<line x1="324.48" y1="8.0" x2="324.48" y2="12" stroke="#000" stroke-width="1.9"/>
<line x1="398.76" y1="427.2" x2="398.76" y2="431.3" stroke="#000" stroke-width="1.9"/>
<line x1="398.76" y1="8.0" x2="398.76" y2="12" stroke="#000" stroke-width="1.9"/>
<line x1="473.04" y1="427.2" x2="473.04" y2="431.3" stroke="#000" stroke-width="1.9"/>
<line x1="473.04" y1="8.0" x2="473.04" y2="12" stroke="#000" stroke-width="1.9"/>
<line x1="547.32" y1="427.2" x2="547.32" y2="431.3" stroke="#000" stroke-width="1.9"/>
<line x1="547.32" y1="8.0" x2="547.32" y2="12" stroke="#000" stroke-width="1.9"/>
<line x1="585" y1="7.1" x2="585" y2="428.09999999999997" stroke="#ff0000" stroke-width="2"/>
<line x1="576.3" y1="427.20" x2="585" y2="427.20" stroke="#ff0000" stroke-width="2"/>
<text x="593.2" y="433.70" font-size="22" font-family="Liberation Serif">0.49998</text>
<line x1="576.3" y1="287.47" x2="585" y2="287.47" stroke="#ff0000" stroke-width="2"/>
<text x="593.2" y="293.97" font-size="22" font-family="Liberation Serif">0.49999</text>
<line x1="576.3" y1="147.73" x2="585" y2="147.73" stroke="#ff0000" stroke-width="2"/>
<text x="593.2" y="154.23" font-size="22" font-family="Liberation Serif">0.50000</text>
<line x1="576.3" y1="8.00" x2="585" y2="8.00" stroke="#ff0000" stroke-width="2"/>
<text x="593.2" y="14.50" font-size="22" font-family="Liberation Serif">0.50001</text>
<line x1="580.4" y1="357.33" x2="585" y2="357.33" stroke="#ff0000" stroke-width="2"/>
<line x1="580.4" y1="217.60" x2="585" y2="217.60" stroke="#ff0000" stroke-width="2"/>
<line x1="580.4" y1="77.87" x2="585" y2="77.87" stroke="#ff0000" stroke-width="2"/>
<text x="324.4" y="482" font-size="25.5" text-anchor="middle" font-family="Liberation Serif">iteration</text>
<text transform="translate(18.6,216.5) rotate(-90)" font-size="25.5" text-anchor="middle" font-family="Liberation Serif">objective function</text>
<text transform="translate(683.8,218) rotate(-90)" font-size="25.5" text-anchor="middle" fill="#ff0000" font-family="Liberation Serif">volume fraction</text>
<rect x="354.5" y="22.5" width="216" height="30" fill="#fff" stroke="#5a5a5a" stroke-width="1.1"/>
<rect x="354.5" y="52.5" width="197" height="30" fill="#fff" stroke="#5a5a5a" stroke-width="1.1"/>
<line x1="357.1" y1="38" x2="407.1" y2="38" stroke="#000" stroke-width="1.5"/>
<rect x="379.7" y="35.6" width="4.8" height="4.8" fill="#000"/>
<line x1="357.1" y1="68.1" x2="407.1" y2="68.1" stroke="#ff0000" stroke-width="1.8"/>
<path d="M382.1,63.4 L385.6,69.6 L378.6,69.6 Z" fill="#ff0000"/>
<text x="412.3" y="45.3" font-size="21.35" font-family="Liberation Serif">objective function</text>
<text x="412.3" y="75.4" font-size="21.35" font-family="Liberation Serif">volume fraction</text>
</svg></body></html>
